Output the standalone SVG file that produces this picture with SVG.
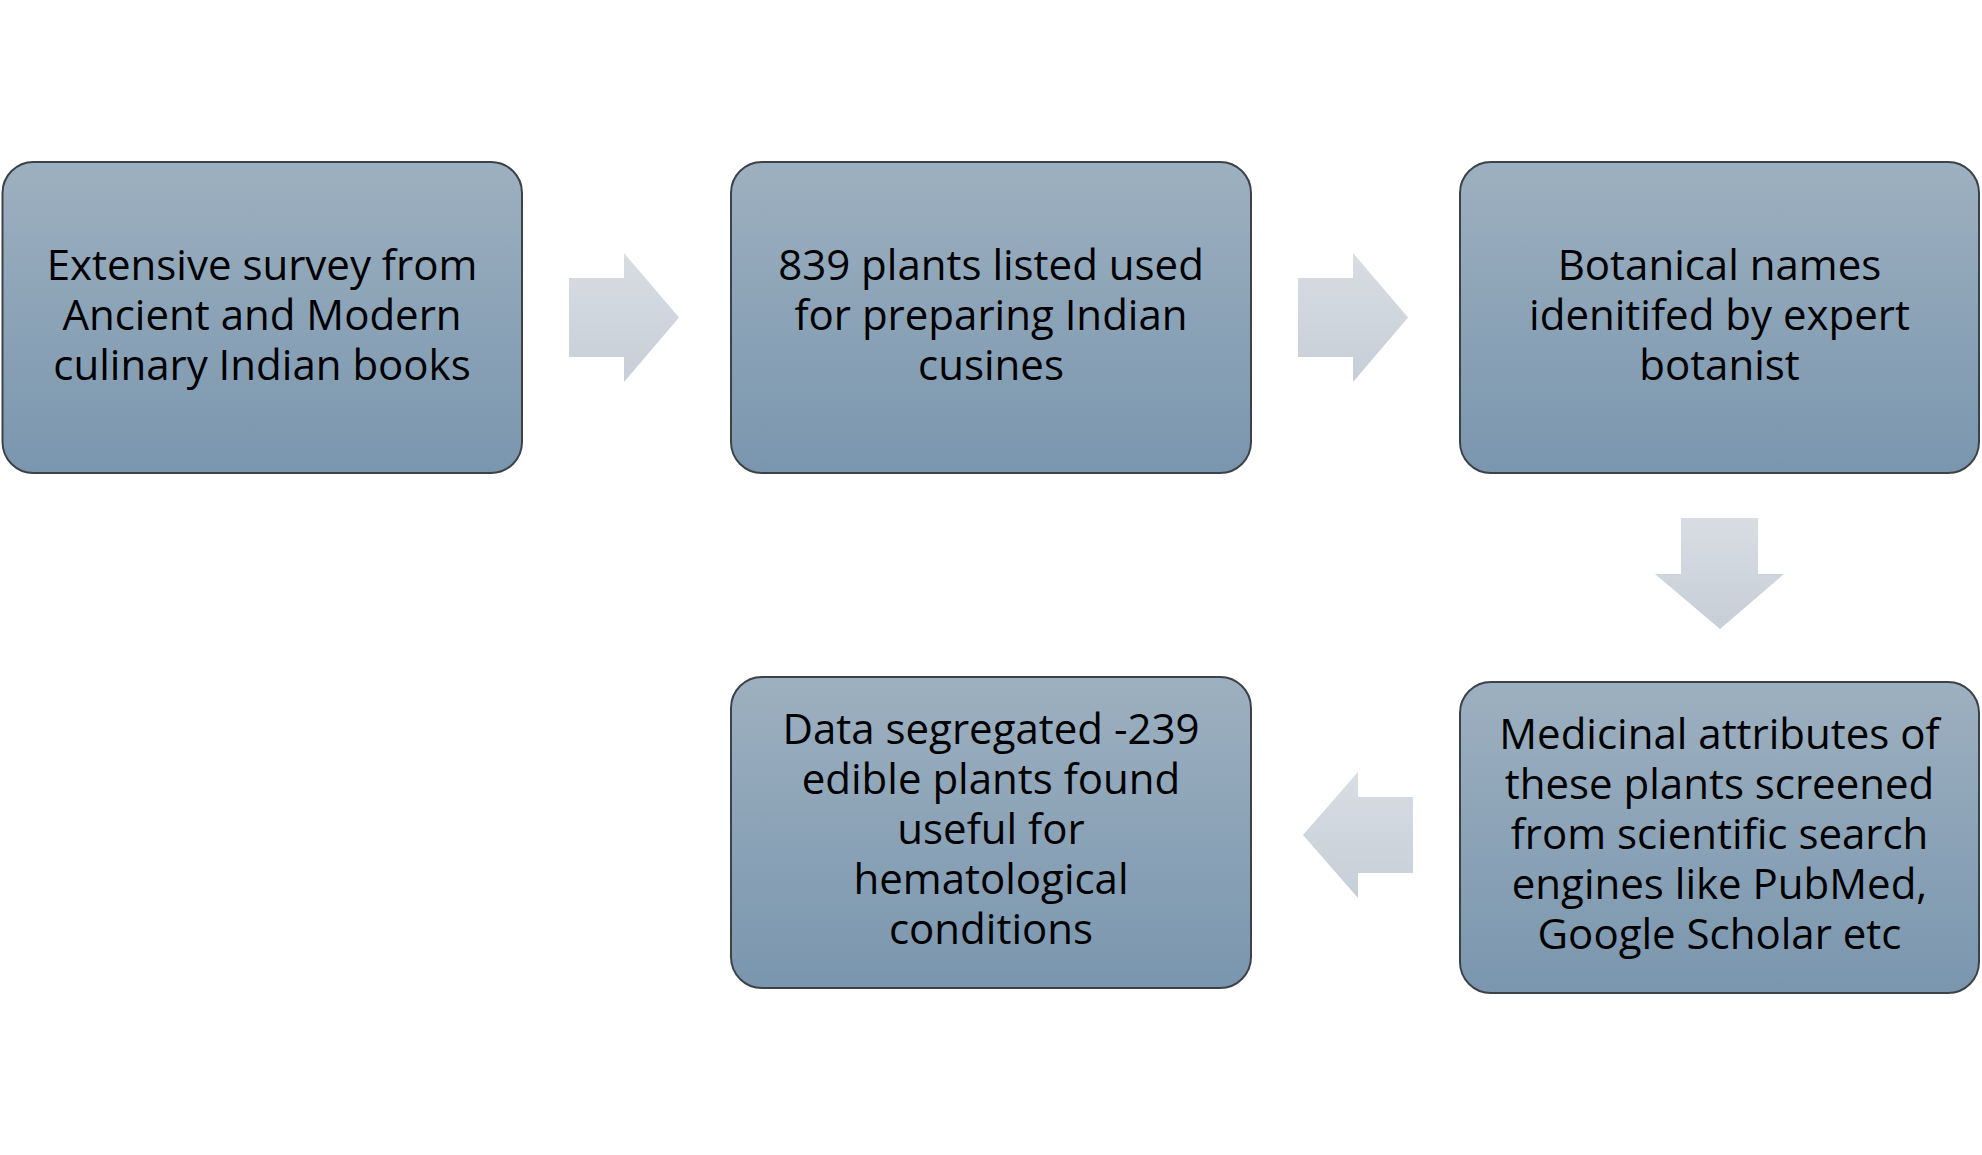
<svg xmlns="http://www.w3.org/2000/svg" width="1982" height="1155" viewBox="0 0 1982 1155">
  <defs>
    <linearGradient id="boxGrad" x1="0" y1="0" x2="0" y2="1">
      <stop offset="0" stop-color="#9DB0C0"/>
      <stop offset="1" stop-color="#7A96AE"/>
    </linearGradient>
    <linearGradient id="arrowGrad" x1="0" y1="0" x2="0" y2="1">
      <stop offset="0" stop-color="#D8DDE3"/>
      <stop offset="1" stop-color="#C6CED7"/>
    </linearGradient>
  </defs>
  <style>
    .box { fill: url(#boxGrad); stroke: #3C4248; stroke-width: 2; }
    .arrow { fill: url(#arrowGrad); stroke: none; }
    .label { font-family: "Open Sans", "Noto Sans", sans-serif; font-size: 42px; fill: #000000; text-anchor: middle; }
  </style>
  <rect width="1982" height="1155" fill="#FFFFFF"/>

  <g id="connectors">
    <polygon class="arrow" points="569,278 624,278 624,253 679,317.5 624,382 624,357 569,357"/>
    <polygon class="arrow" points="1298,278 1353,278 1353,253 1408,317.5 1353,382 1353,357 1298,357"/>
    <polygon class="arrow" points="1681,518 1758,518 1758,574 1784,574 1720,629 1655,574 1681,574"/>
    <polygon class="arrow" points="1413,797 1358,797 1358,772 1303,835 1358,898 1358,873 1413,873"/>
  </g>

  <g id="node-survey">
    <rect class="box" x="2.5" y="162" width="519.5" height="311" rx="31" ry="31"/>
    <text class="label" x="262" y="280">Extensive survey from</text>
    <text class="label" x="262" y="330">Ancient and Modern</text>
    <text class="label" x="262" y="380">culinary Indian books</text>
  </g>

  <g id="node-plants">
    <rect class="box" x="731" y="162" width="520" height="311" rx="31" ry="31"/>
    <text class="label" x="991" y="280">839 plants listed used</text>
    <text class="label" x="991" y="330">for preparing Indian</text>
    <text class="label" x="991" y="380">cusines</text>
  </g>

  <g id="node-botanical">
    <rect class="box" x="1460" y="162" width="519" height="311" rx="31" ry="31"/>
    <text class="label" x="1719.5" y="280">Botanical names</text>
    <text class="label" x="1719.5" y="330">idenitifed by expert</text>
    <text class="label" x="1719.5" y="380">botanist</text>
  </g>

  <g id="node-medicinal">
    <rect class="box" x="1460" y="682" width="519" height="311" rx="31" ry="31"/>
    <text class="label" x="1719.5" y="749">Medicinal attributes of</text>
    <text class="label" x="1719.5" y="799">these plants screened</text>
    <text class="label" x="1719.5" y="849">from scientific search</text>
    <text class="label" x="1719.5" y="899">engines like PubMed,</text>
    <text class="label" x="1719.5" y="949">Google Scholar etc</text>
  </g>

  <g id="node-segregated">
    <rect class="box" x="731" y="677" width="520" height="311" rx="31" ry="31"/>
    <text class="label" x="991" y="744">Data segregated -239</text>
    <text class="label" x="991" y="794">edible plants found</text>
    <text class="label" x="991" y="844">useful for</text>
    <text class="label" x="991" y="894">hematological</text>
    <text class="label" x="991" y="944">conditions</text>
  </g>
</svg>
